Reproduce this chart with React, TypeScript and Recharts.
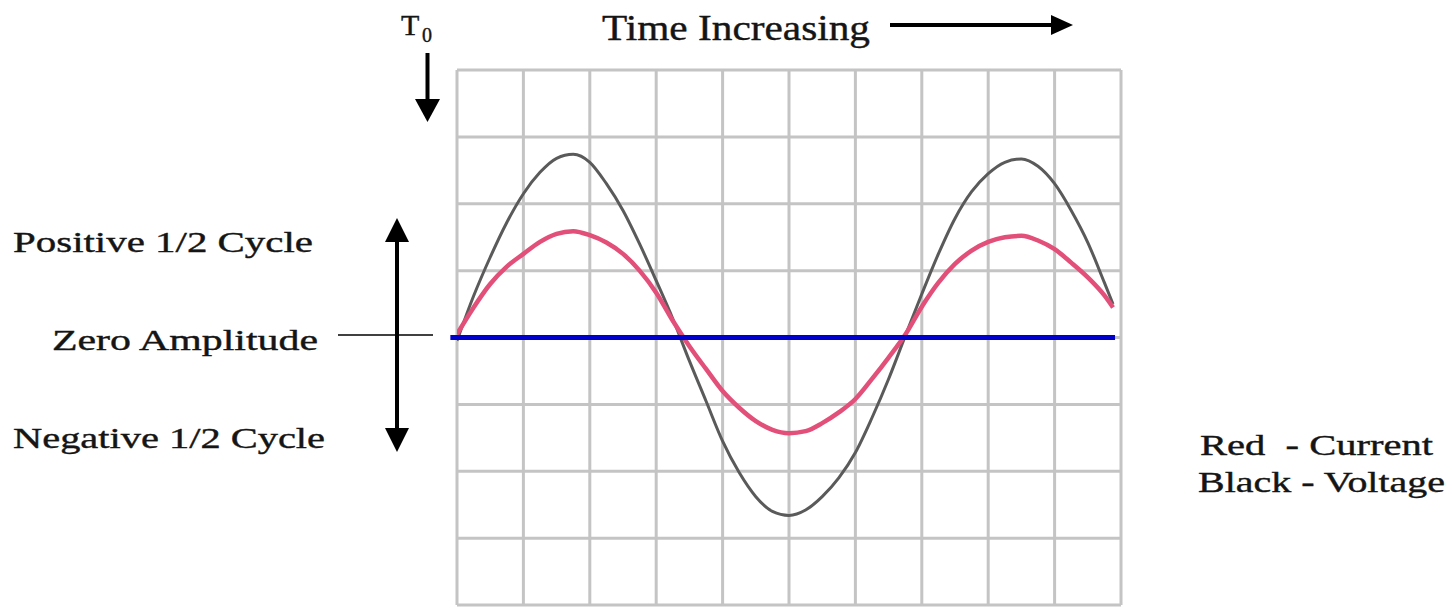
import React from "react";
import { LineChart, Line, XAxis, YAxis, CartesianGrid, ReferenceLine } from "recharts";

// Time in grid divisions, amplitudes in grid divisions
const time = [0, 0.25, 0.5, 0.75, 1, 1.25, 1.5, 1.75, 2, 2.25, 2.5, 2.75, 3, 3.25, 3.5, 3.75, 4, 4.25, 4.5, 4.75, 5, 5.25, 5.5, 5.75, 6, 6.25, 6.5, 6.75, 7, 7.25, 7.5, 7.75, 8, 8.25, 8.5, 8.75, 9, 9.25, 9.5, 9.75, 9.88];
const voltage = [-0.05, 0.62, 1.2, 1.72, 2.15, 2.47, 2.68, 2.74, 2.62, 2.3, 1.9, 1.4, 0.85, 0.28, -0.35, -0.95, -1.55, -2.02, -2.38, -2.6, -2.66, -2.58, -2.38, -2.1, -1.72, -1.2, -0.62, 0.02, 0.65, 1.25, 1.78, 2.18, 2.45, 2.62, 2.67, 2.56, 2.3, 1.9, 1.42, 0.82, 0.5];
const current = [0.05, 0.45, 0.8, 1.06, 1.25, 1.43, 1.55, 1.59, 1.53, 1.42, 1.25, 1.0, 0.67, 0.25, -0.13, -0.47, -0.8, -1.05, -1.25, -1.38, -1.43, -1.4, -1.28, -1.12, -0.92, -0.62, -0.3, 0.04, 0.46, 0.82, 1.1, 1.3, 1.43, 1.5, 1.52, 1.45, 1.32, 1.12, 0.9, 0.63, 0.45];

const timeTicks = [0, 1, 2, 3, 4, 5, 6, 7, 8, 9, 10];
const amplitudeTicks = [-4, -3, -2, -1, 0, 1, 2, 3, 4];
const zeroStart = -0.1;
const zeroEnd = 9.91;

const data = time.map((t, i) => ({ t, voltage: voltage[i], current: current[i] }));

const font = "'Liberation Serif', 'Times New Roman', serif";
const ink = "#151515";

function Overlay() {
  const textProps = { fontFamily: font, fill: ink, lengthAdjust: "spacingAndGlyphs" as const, stroke: ink, strokeWidth: 0.4 };
  return (
    <svg width={1452} height={608} style={{ position: "absolute", left: 0, top: 0, pointerEvents: "none" }}>
      {/* T0 */}
      <text x={401} y={35} fontSize={30} {...textProps}>T</text>
      <text x={422} y={42} fontSize={20} {...textProps}>0</text>
      <line x1={427.5} y1={53} x2={427.5} y2={102} stroke="#000" strokeWidth={4} />
      <polygon points="415,99 440,99 427.5,122" fill="#000" />

      {/* Time increasing */}
      <text x={602} y={40} fontSize={35} textLength={268} {...textProps}>Time Increasing</text>
      <line x1={890} y1={25} x2={1055} y2={25} stroke="#000" strokeWidth={4} />
      <polygon points="1051,15 1073,25 1051,35" fill="#000" />

      {/* Left labels */}
      <text x={13} y={252} fontSize={30} textLength={300} {...textProps}>Positive 1/2 Cycle</text>
      <text x={52} y={350} fontSize={30} textLength={266} {...textProps}>Zero Amplitude</text>
      <text x={13} y={448} fontSize={30} textLength={312} {...textProps}>Negative 1/2 Cycle</text>
      <line x1={338} y1={335} x2={433} y2={335} stroke="#000" strokeWidth={1.5} />

      {/* Vertical double arrow */}
      <line x1={397} y1={238} x2={397} y2={432} stroke="#000" strokeWidth={4} />
      <polygon points="397,218 385,242 409,242" fill="#000" />
      <polygon points="397,452 385,428 409,428" fill="#000" />

      {/* Legend text */}
      <text x={1200} y={455} fontSize={30} textLength={233} {...textProps}>{"Red\u00a0 - Current"}</text>
      <text x={1198} y={492} fontSize={30} textLength={247} {...textProps}>Black - Voltage</text>
    </svg>
  );
}

export default function App() {
  return (
    <div style={{ position: "absolute", left: 0, top: 0, width: 1452, height: 608, background: "#fff" }}>
      <LineChart width={1452} height={608} data={data} margin={{ top: 70, left: 457, right: 331, bottom: 3 }}>
        <CartesianGrid stroke="#c4c4c4" strokeWidth={3} />
        <XAxis type="number" dataKey="t" domain={[0, 10]} ticks={timeTicks} hide allowDataOverflow />
        <YAxis type="number" domain={[-4, 4]} ticks={amplitudeTicks} hide allowDataOverflow />
        <Line
          dataKey="voltage"
          type="monotone"
          stroke="#5a5a5a"
          strokeWidth={3}
          dot={false}
          isAnimationActive={false}
        />
        <Line
          dataKey="current"
          type="monotone"
          stroke="#e24f79"
          strokeWidth={4.5}
          dot={false}
          isAnimationActive={false}
        />
        <ReferenceLine
          segment={[{ x: zeroStart, y: 0 }, { x: zeroEnd, y: 0 }]}
          stroke="#0000cc"
          strokeWidth={5}
          ifOverflow="visible"
        />
      </LineChart>
      <Overlay />
    </div>
  );
}
